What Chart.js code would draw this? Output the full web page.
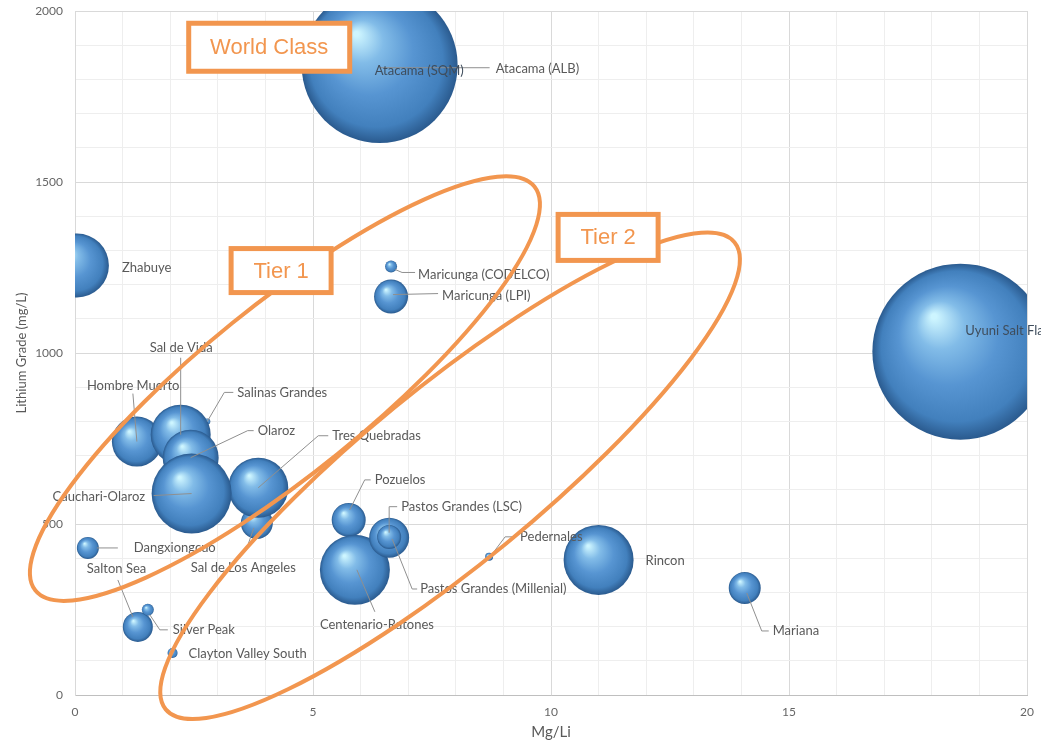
<!DOCTYPE html>
<html>
<head>
<meta charset="utf-8">
<script src="https://cdn.jsdelivr.net/npm/chart.js@4.4.1/dist/chart.umd.min.js"></script>
<style>
  html, body { margin: 0; padding: 0; background: #fff; }
  #wrap { width: 1041px; height: 742px; }
</style>
</head>
<body>
<div id="wrap"><canvas id="grafico"></canvas></div>
<script>
// salares (ordem = ordem de desenho, os de tras primeiro)
const projetos = [
  'Atacama (ALB)', 'Atacama (SQM)', 'Zhabuye', 'Maricunga (CODELCO)', 'Maricunga (LPI)',
  'Uyuni Salt Flat', 'Hombre Muerto', 'Salinas Grandes', 'Sal de Vida', 'Olaroz',
  'Sal de Los Angeles', 'Tres Quebradas', 'Cauchari-Olaroz', 'Dangxiongcuo', 'Salton Sea',
  'Silver Peak', 'Clayton Valley South', 'Pozuelos', 'Centenario-Ratones', 'Pastos Grandes (LSC)',
  'Pastos Grandes (Millenial)', 'Pedernales', 'Rincon', 'Mariana'
];
const mgLi = [
  6.4, 6.4, 0.04, 6.64, 6.64,
  18.6, 1.3, 2.78, 2.22, 2.43,
  3.82, 3.85, 2.45, 0.27, 1.32,
  1.53, 2.05, 5.75, 5.88, 6.6,
  6.6, 8.7, 11.0, 14.07
];
const lithiumGrade = [
  1840, 1842, 1256, 1253, 1165,
  1004, 741, 800, 761, 694,
  503, 606, 589, 430, 199,
  249, 123, 512, 366, 460,
  462, 404, 395, 313
];
// tamanho da bolha (raio)
const bubbleSize = [
  60, 78, 32, 6, 17,
  88, 25, 3, 30, 28,
  16, 30, 40, 11, 15,
  6, 5, 17, 35, 20,
  12, 4, 35, 16
];

const ticksX = [0, 5, 10, 15, 20];
const ticksY = [0, 500, 1000, 1500, 2000];

// posicao dos rotulos (px, relativo ao centro da bolha) e linhas de chamada
const rotulos = {
  'Atacama (ALB)': { dx: 116, dy: 3, linha: [[0, 2], [110, 2]] },
  'Atacama (SQM)': { dx: -5, dy: 6, cor: '#3f4d5c' },
  'Zhabuye': { dx: 45, dy: 2 },
  'Maricunga (CODELCO)': { dx: 27, dy: 8, linha: [[4, 3], [11, 6], [24, 6]] },
  'Maricunga (LPI)': { dx: 51, dy: -1, linha: [[2, -2], [47, -3]] },
  'Uyuni Salt Flat': { dx: 5, dy: -21, cor: '#3f4d5c' },
  'Hombre Muerto': { dx: -50, dy: -56, linha: [[0, 0], [-4, -48]] },
  'Salinas Grandes': { dx: 30, dy: -29, linha: [[0, 0], [17, -29], [26, -29]] },
  'Sal de Vida': { dx: -31, dy: -87, linha: [[0, 0], [0, -77]] },
  'Olaroz': { dx: 67, dy: -27, linha: [[0, 0], [57, -27], [63, -27]] },
  'Sal de Los Angeles': { dx: -66, dy: 45, linha: [[-3, 5], [-10, 25]] },
  'Tres Quebradas': { dx: 74, dy: -52, linha: [[0, 0], [60, -52], [70, -52]] },
  'Cauchari-Olaroz': { dx: -139, dy: 3, linha: [[0, 0], [-38, 2]] },
  'Dangxiongcuo': { dx: 46, dy: 0, linha: [[9, 0], [30, 0]] },
  'Salton Sea': { dx: -51, dy: -58, linha: [[-5, -10], [-20, -47]] },
  'Silver Peak': { dx: 25, dy: 20, linha: [[2, 5], [12, 20], [20, 20]] },
  'Clayton Valley South': { dx: 16, dy: 1 },
  'Pozuelos': { dx: 26, dy: -40, linha: [[1, -10], [16, -40], [22, -40]] },
  'Centenario-Ratones': { dx: -35, dy: 55, linha: [[2, 0], [20, 42]] },
  'Pastos Grandes (LSC)': { dx: 12, dy: -31, linha: [[0, -5], [0, -31], [8, -31]] },
  'Pastos Grandes (Millenial)': { dx: 31, dy: 52, linha: [[3, 2], [23, 52], [28, 52]] },
  'Pedernales': { dx: 31, dy: -20, linha: [[1, 0], [16, -20], [23, -20]] },
  'Rincon': { dx: 47, dy: 1 },
  'Mariana': { dx: 28, dy: 43, linha: [[2, 5], [17, 43], [24, 43]] }
};

const LARANJA = '#f2964f';

// elipses: centro em valores dos eixos, semi-eixos em px, rotacao em graus
const elipses = [
  { x: 4.41, y: 896, a: 321, b: 84, rot: -39 },
  { x: 7.88, y: 641, a: 368, b: 88, rot: -39.4 }
];
const caixas = [
  { texto: 'World Class', x: 4.08, y: 1894, w: 161, h: 48 },
  { texto: 'Tier 1', x: 4.33, y: 1241, w: 100, h: 44 },
  { texto: 'Tier 2', x: 11.2, y: 1338, w: 100, h: 46 }
];

// efeito de esfera nas bolhas
function corEsfera(context) {
  const chart = context.chart;
  const raw = context.raw;
  if (!raw || !chart.chartArea) return '#5b9bd5';
  const cx = chart.scales.x.getPixelForValue(raw.x);
  const cy = chart.scales.y.getPixelForValue(raw.y);
  const r = raw.r;
  const g = chart.ctx.createRadialGradient(cx - r * 0.3, cy - r * 0.4, r * 0.03, cx, cy, r);
  g.addColorStop(0, '#cdf5ff');
  g.addColorStop(0.25, '#82bce8');
  g.addColorStop(0.55, '#5795d2');
  g.addColorStop(0.85, '#4280bd');
  g.addColorStop(1, '#2a5a8e');
  return g;
}

const rotulosPlugin = {
  id: 'rotulos',
  afterDatasetsDraw(chart) {
    const { ctx } = chart;
    const meta = chart.getDatasetMeta(0);
    ctx.save();
    ctx.font = '13px Lato';
    ctx.textBaseline = 'middle';
    ctx.textAlign = 'left';
    meta.data.forEach((el, i) => {
      const cfg = rotulos[projetos[i]];
      if (!cfg) return;
      if (cfg.linha) {
        ctx.strokeStyle = '#8f8f8f';
        ctx.lineWidth = 1;
        ctx.beginPath();
        cfg.linha.forEach(([dx, dy], k) => {
          if (k === 0) ctx.moveTo(el.x + dx, el.y + dy);
          else ctx.lineTo(el.x + dx, el.y + dy);
        });
        ctx.stroke();
      }
      ctx.fillStyle = cfg.cor || '#595959';
      ctx.fillText(projetos[i], el.x + cfg.dx, el.y + cfg.dy);
    });
    ctx.restore();
  }
};

const destaquesPlugin = {
  id: 'destaques',
  afterDraw(chart) {
    const { ctx, scales: { x, y } } = chart;
    ctx.save();
    ctx.strokeStyle = LARANJA;
    ctx.lineWidth = 4;
    elipses.forEach((e) => {
      ctx.beginPath();
      ctx.ellipse(x.getPixelForValue(e.x), y.getPixelForValue(e.y), e.a, e.b, e.rot * Math.PI / 180, 0, Math.PI * 2);
      ctx.stroke();
    });
    caixas.forEach((c) => {
      const px = x.getPixelForValue(c.x);
      const py = y.getPixelForValue(c.y);
      ctx.fillStyle = '#fff';
      ctx.fillRect(px - c.w / 2, py - c.h / 2, c.w, c.h);
      ctx.lineWidth = 5;
      ctx.strokeRect(px - c.w / 2, py - c.h / 2, c.w, c.h);
      ctx.fillStyle = LARANJA;
      ctx.font = '22px "Liberation Sans"';
      ctx.textAlign = 'center';
      ctx.textBaseline = 'middle';
      ctx.fillText(c.texto, px, py + 1);
    });
    ctx.restore();
  }
};

new Chart(document.getElementById('grafico'), {
  type: 'bubble',
  data: {
    datasets: [{
      label: 'Salares',
      data: projetos.map((p, i) => ({ x: mgLi[i], y: lithiumGrade[i], r: bubbleSize[i] })),
      backgroundColor: corEsfera,
      borderWidth: 0,
      clip: 0
    }]
  },
  plugins: [rotulosPlugin, destaquesPlugin],
  options: {
    responsive: true,
    maintainAspectRatio: false,
    animation: false,
    events: [],
    layout: { autoPadding: false, padding: { top: 11, right: 14, left: 0, bottom: 0 } },
    plugins: {
      legend: { display: false },
      tooltip: { enabled: false }
    },
    scales: {
      x: {
        type: 'linear',
        min: 0,
        max: 20,
        afterFit: (s) => { s.height = 47; },
        ticks: {
          stepSize: 1,
          autoSkip: false,
          maxRotation: 0,
          padding: 0,
          color: '#666',
          font: { family: 'Lato', size: 12 },
          callback: (v) => ticksX.includes(v) ? v : ''
        },
        grid: {
          drawTicks: true,
          tickLength: 10,
          tickColor: 'rgba(0,0,0,0)',
          color: (c) => (c.tick && c.tick.value % 5 === 0) ? '#d9d9d9' : '#eeeeee'
        },
        border: { color: '#bfbfbf' },
        title: {
          display: true,
          text: 'Mg/Li',
          color: '#595959',
          font: { family: 'Lato', size: 15 },
          padding: { top: 0, bottom: 1 }
        }
      },
      y: {
        min: 0,
        max: 2000,
        afterFit: (s) => { s.width = 75; },
        ticks: {
          stepSize: 100,
          autoSkip: false,
          padding: 0,
          color: '#666',
          font: { family: 'Lato', size: 12 },
          callback: (v) => ticksY.includes(v) ? v : ''
        },
        grid: {
          drawTicks: true,
          tickLength: 12,
          tickColor: 'rgba(0,0,0,0)',
          color: (c) => (c.tick && c.tick.value % 500 === 0) ? '#d9d9d9' : '#eeeeee'
        },
        border: { color: '#d9d9d9' },
        title: {
          display: true,
          text: 'Lithium Grade (mg/L)',
          color: '#595959',
          font: { family: 'Lato', size: 13 },
          padding: { top: 14, bottom: 0 }
        }
      }
    }
  }
});
</script>
</body>
</html>
